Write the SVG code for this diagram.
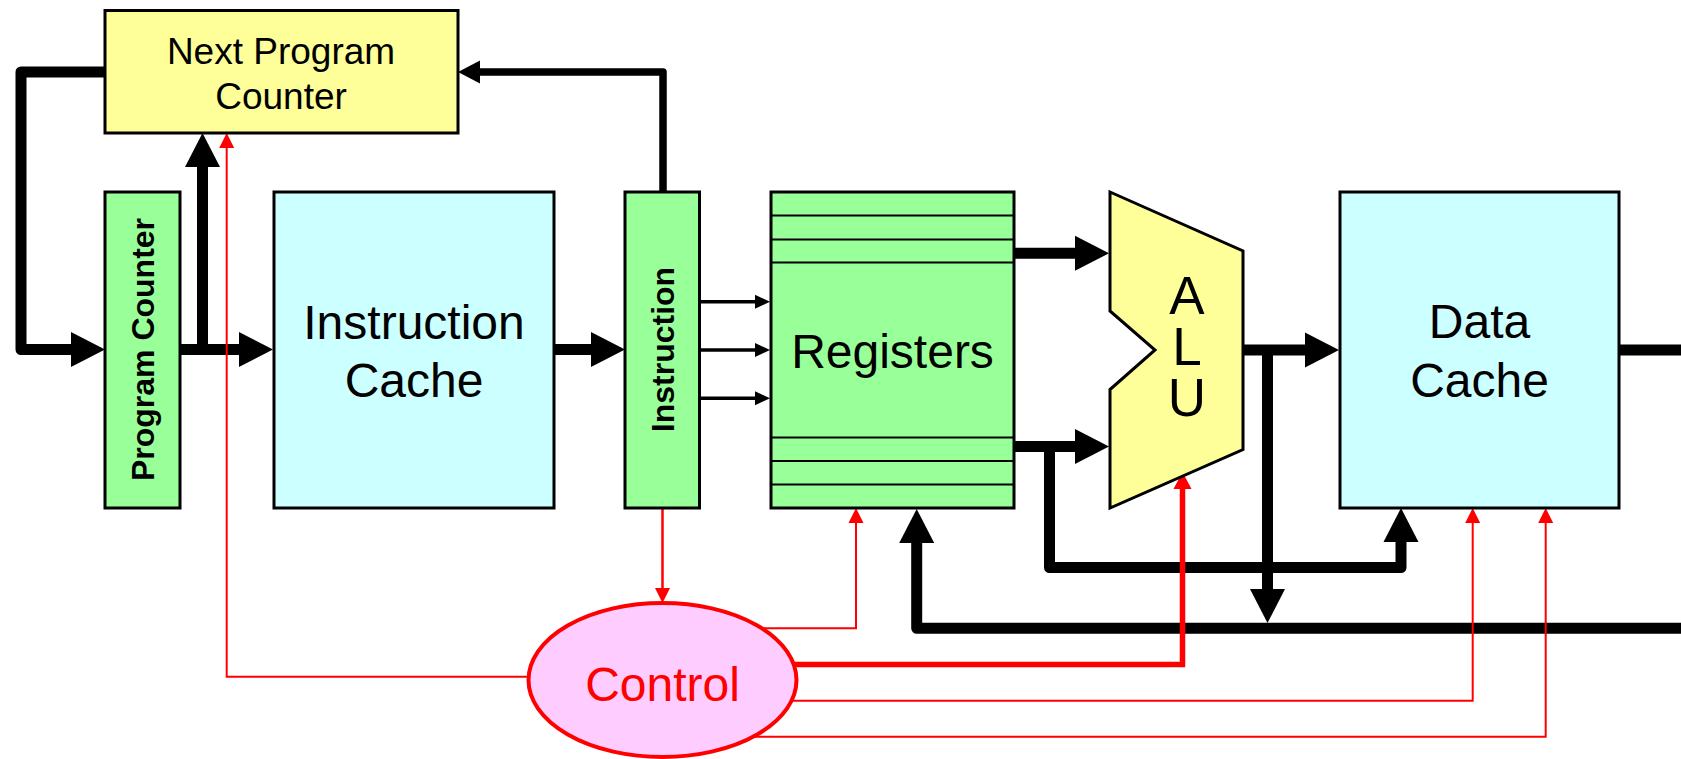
<svg xmlns="http://www.w3.org/2000/svg" width="1681" height="759" viewBox="0 0 1681 759">
<style>
.box{stroke:#000;stroke-width:3}
.yel{fill:#FFFF99}
.cyan{fill:#CCFFFF}
.grn{fill:#99FF99}
.sep{stroke:#000;stroke-width:2}
.lbl{font-family:"Liberation Sans",Arial,sans-serif;fill:#000;text-anchor:middle}
.big{font-size:48px}
.npc{font-size:37px}
.vert{font-size:32px;font-weight:bold}
.alu{font-family:"Liberation Sans",Arial,sans-serif;fill:#000;font-size:53px;writing-mode:vertical-rl;text-orientation:upright;letter-spacing:-8px}
.ctl{fill:#FF0000}
.bus{fill:none;stroke:#000;stroke-width:11;stroke-linejoin:round}
.bus2{fill:none;stroke:#000;stroke-width:7.5;stroke-linejoin:round}
.thin{fill:none;stroke:#000;stroke-width:3.5}
.red{fill:none;stroke:#FF0000;stroke-width:2}
.red2{fill:none;stroke:#FF0000;stroke-width:2.5}
.redT{fill:none;stroke:#FF0000;stroke-width:5.5}
</style>
<defs>
<marker id="ab" markerUnits="userSpaceOnUse" markerWidth="34" markerHeight="35" refX="2" refY="17.5" orient="auto" overflow="visible"><path d="M0,0 L34,17.5 L0,35 z" fill="#000"/></marker>
<marker id="am" markerUnits="userSpaceOnUse" markerWidth="22" markerHeight="23" refX="2" refY="11.5" orient="auto" overflow="visible"><path d="M0,0 L22,11.5 L0,23 z" fill="#000"/></marker>
<marker id="as" markerUnits="userSpaceOnUse" markerWidth="15" markerHeight="14" refX="2" refY="7" orient="auto" overflow="visible"><path d="M0,0 L15,7 L0,14 z" fill="#000"/></marker>
<marker id="rs" markerUnits="userSpaceOnUse" markerWidth="15" markerHeight="15" refX="2" refY="7.5" orient="auto" overflow="visible"><path d="M0,0 L15,7.5 L0,15 z" fill="#FF0000"/></marker>
<marker id="rm" markerUnits="userSpaceOnUse" markerWidth="17" markerHeight="18" refX="2" refY="9" orient="auto" overflow="visible"><path d="M0,0 L17,9 L0,18 z" fill="#FF0000"/></marker>
</defs>
<rect width="1681" height="759" fill="#fff"/>
<g id="connectors">
<path class="bus" d="M106,72 H21 V349.5 H73" marker-end="url(#ab)"/>
<path class="bus" d="M180,349.5 H241" marker-end="url(#ab)"/>
<path class="bus" d="M202.5,349.5 V165" marker-end="url(#ab)"/>
<path class="bus" d="M554,349.5 H593" marker-end="url(#ab)"/>
<path class="bus2" d="M663,192 V72 H478" marker-end="url(#am)"/>
<path class="thin" d="M699,301.7 H757" marker-end="url(#as)"/>
<path class="thin" d="M699,350 H757" marker-end="url(#as)"/>
<path class="thin" d="M699,398.3 H757" marker-end="url(#as)"/>
<path class="bus" d="M1014,253.3 H1077" marker-end="url(#ab)"/>
<path class="bus" d="M1014,446.5 H1077" marker-end="url(#ab)"/>
<path class="bus" d="M1049.5,446.5 V567.5 H1401 V540" marker-end="url(#ab)"/>
<path class="bus" d="M1243,350 H1307" marker-end="url(#ab)"/>
<path class="bus" d="M1267.5,350 V591" marker-end="url(#ab)"/>
<path class="bus" d="M1695,628.3 H916.7 V541" marker-end="url(#ab)"/>
<path class="bus" d="M1619,350 H1695"/>
<path class="red2" d="M662.5,508 V590" marker-end="url(#rs)"/>
<path class="red" d="M530,676.7 H226.7 V146" marker-end="url(#rs)"/>
<path class="red" d="M760,628.3 H856 V521" marker-end="url(#rs)"/>
<path class="redT" d="M794,664.5 H1182.5 V487" marker-end="url(#rm)"/>
<path class="red" d="M790,700.7 H1472.7 V521" marker-end="url(#rs)"/>
<path class="red" d="M752,736.7 H1545.7 V521" marker-end="url(#rs)"/>
</g>
<g id="next-pc">
<rect class="box yel" x="105" y="10.5" width="353" height="122.5"/>
<text class="lbl npc" x="281" y="63.5">Next Program</text>
<text class="lbl npc" x="281" y="108.5">Counter</text>
</g>
<g id="program-counter">
<rect class="box grn" x="105" y="192" width="75" height="316"/>
<text class="lbl vert" transform="translate(154,349.5) rotate(-90)">Program Counter</text>
</g>
<g id="instruction-cache">
<rect class="box cyan" x="274" y="192" width="280" height="316"/>
<text class="lbl big" x="414" y="339.3">Instruction</text>
<text class="lbl big" x="414" y="396.7">Cache</text>
</g>
<g id="instruction">
<rect class="box grn" x="625" y="192" width="74.5" height="316"/>
<text class="lbl vert" transform="translate(674,349.5) rotate(-90)">Instruction</text>
</g>
<g id="registers">
<rect class="box grn" x="771" y="192" width="243" height="316"/>
<line class="sep" x1="771" y1="215.5" x2="1014" y2="215.5"/>
<line class="sep" x1="771" y1="239.5" x2="1014" y2="239.5"/>
<line class="sep" x1="771" y1="262.5" x2="1014" y2="262.5"/>
<line class="sep" x1="771" y1="437.5" x2="1014" y2="437.5"/>
<line class="sep" x1="771" y1="461" x2="1014" y2="461"/>
<line class="sep" x1="771" y1="484.5" x2="1014" y2="484.5"/>
<text class="lbl big" x="892.5" y="368.3">Registers</text>
</g>
<g id="alu">
<polygon class="box yel" points="1110,192 1243,251 1243,449.5 1110,508 1110,389.5 1155,350 1110,311"/>
<text class="alu" x="1187" y="266">ALU</text>
</g>
<g id="data-cache">
<rect class="box cyan" x="1340" y="192" width="279" height="316"/>
<text class="lbl big" x="1479.5" y="338">Data</text>
<text class="lbl big" x="1479.5" y="396.7">Cache</text>
</g>
<g id="control">
<ellipse cx="662.5" cy="680" rx="134" ry="77" fill="#FFCCFF" stroke="#FF0000" stroke-width="4"/>
<text class="lbl big ctl" x="662.5" y="700.7">Control</text>
</g>
</svg>
